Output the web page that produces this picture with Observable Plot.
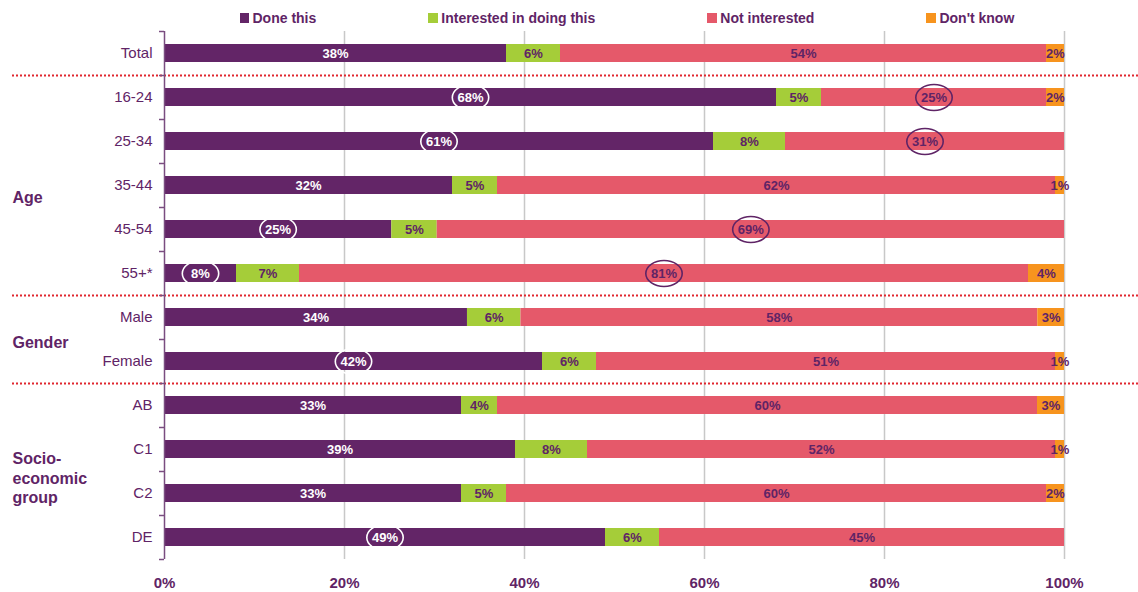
<!DOCTYPE html>
<html>
<head>
<meta charset="utf-8">
<script src="https://cdn.jsdelivr.net/npm/d3@7"></script>
<script src="https://cdn.jsdelivr.net/npm/@observablehq/plot@0.6"></script>
<style>
  html, body { margin: 0; padding: 0; background: #fff; }
  #chart { width: 1138px; font-family: "Liberation Sans", Arial, sans-serif; }
  .legend { height: 30px; box-sizing: border-box; padding-top: 6px; padding-left: 239.5px; display: flex; align-items: center; gap: 112px; }
  .legend .item { display: flex; align-items: center; font-size: 14px; font-weight: bold; color: #5F2466; line-height: 24px; white-space: nowrap; }
  .legend .sw { width: 9.5px; height: 9.5px; margin-right: 3.5px; display: inline-block; }
</style>
</head>
<body>
<div id="chart"></div>
<script>
// ---- data ----
const categories = ["Total", "16-24", "25-34", "35-44", "45-54", "55+*", "Male", "Female", "AB", "C1", "C2", "DE"];
const series = ["Done this", "Interested in doing this", "Not interested", "Don't know"];
const seriesColors = ["#632567", "#A5CD39", "#E5596A", "#F7941E"];
const doneThis      = [38, 68, 61, 32, 25,  8, 34, 42, 33, 39, 33, 49];
const interested    = [ 6,  5,  8,  5,  5,  7,  6,  6,  4,  8,  5,  6];
const notInterested = [54, 25, 31, 62, 69, 81, 58, 51, 60, 52, 60, 45];
const dontKnow      = [ 2,  2,  0,  1,  0,  4,  3,  1,  3,  1,  2,  0];
const circled = [
  ["16-24", "Done this"], ["16-24", "Not interested"],
  ["25-34", "Done this"], ["25-34", "Not interested"],
  ["45-54", "Done this"], ["45-54", "Not interested"],
  ["55+*", "Done this"], ["55+*", "Not interested"],
  ["Female", "Done this"], ["DE", "Done this"]
];
const separators = ["16-24", "Male", "AB"];
const groupLabels = ["Age", "Gender", "Socio-\neconomic\ngroup"];
const groupAnchors = ["35-44", "Male", "C1"];
const xTicks = [0, 0.2, 0.4, 0.6, 0.8, 1];

// ---- styling constants ----
const textPurple = "#5F2466";
const axisPurple = "#7A4D80";
const groupDy = [11, 24, 28];

// ---- build table ----
const seriesValues = [doneThis, interested, notInterested, dontKnow];
const table = [];
categories.forEach((c, i) => {
  series.forEach((s, j) => {
    table.push({category: c, series: s, value: seriesValues[j][i],
      circled: circled.some(([cc, ss]) => cc === c && ss === s)});
  });
});

// ellipse symbol (custom d3 symbol type)
const ellipse = {
  draw(ctx, size) {
    const r = Math.sqrt(size / Math.PI);
    const rx = r * 1.4, ry = r, k = 0.5523;
    ctx.moveTo(rx, 0);
    ctx.bezierCurveTo(rx, ry * k, rx * k, ry, 0, ry);
    ctx.bezierCurveTo(-rx * k, ry, -rx, ry * k, -rx, 0);
    ctx.bezierCurveTo(-rx, -ry * k, -rx * k, -ry, 0, -ry);
    ctx.bezierCurveTo(rx * k, -ry, rx, -ry * k, rx, 0);
    ctx.closePath();
  }
};

// legend
const legend = document.createElement("div");
legend.className = "legend";
series.forEach((s, i) => {
  const item = document.createElement("div");
  item.className = "item";
  const sw = document.createElement("span");
  sw.className = "sw";
  sw.style.background = seriesColors[i];
  item.appendChild(sw);
  item.appendChild(document.createTextNode(s));
  legend.appendChild(item);
});

const leftEdge = -152 / 900;   // page x=12
const rightEdge = 974 / 900;   // page x=1138
const stackOpts = {x: "value", y: "category", offset: "normalize"};

const plot = Plot.plot({
  width: 1138,
  height: 562,
  marginLeft: 164,
  marginRight: 74,
  marginTop: 1,
  marginBottom: 33,
  style: {fontFamily: "'Liberation Sans', Arial, sans-serif", background: "#fff"},
  x: {domain: [0, 1], axis: null},
  y: {domain: categories, paddingInner: 0.59, paddingOuter: 0.295, axis: null},
  color: {domain: series, range: seriesColors},
  marks: [
    Plot.ruleX(xTicks.slice(1), {stroke: "#C8C8C8", strokeWidth: 1.5}),
    Plot.barX(table, Plot.stackX({...stackOpts, fill: "series"})),
    Plot.text(table, Plot.stackX({
      ...stackOpts,
      text: d => d.value ? d.value + "%" : "",
      fill: d => d.series === "Done this" ? "#ffffff" : textPurple,
      fontSize: 13, fontWeight: "bold"
    })),
    Plot.dot(table, Plot.stackX({
      ...stackOpts,
      symbol: ellipse, r: 13, fill: "none", strokeWidth: 1.6,
      stroke: d => !d.circled ? "none" : (d.series === "Done this" ? "#ffffff" : textPurple)
    })),
    Plot.ruleY(separators, {y: d => d, dy: -22, x1: leftEdge, x2: rightEdge,
      stroke: "#E0262E", strokeWidth: 2, strokeDasharray: "2,2"}),
    Plot.ruleX([0], {stroke: axisPurple, strokeWidth: 1.5}),
    Plot.ruleY(categories, {y: d => d, dy: -22, x1: -5 / 900, x2: 0, stroke: axisPurple, strokeWidth: 1.5}),
    Plot.ruleY(categories.slice(-1), {y: d => d, dy: 22, x1: -5 / 900, x2: 0, stroke: axisPurple, strokeWidth: 1.5}),
    Plot.axisY({tickSize: 0, tickPadding: 12, fontSize: 15, fill: textPurple, label: null}),
    Plot.axisX({ticks: xTicks, tickFormat: d3.format(".0%"), tickSize: 0, tickPadding: 18,
      fontSize: 15, fontWeight: "bold", fill: textPurple, label: null}),
    ...groupLabels.map((g, i) => Plot.text([g], {
      x: () => leftEdge, y: () => groupAnchors[i], text: d => d, dy: groupDy[i],
      textAnchor: "start", lineAnchor: "middle", lineHeight: 1.22,
      fontSize: 16, fontWeight: "bold", fill: textPurple
    }))
  ]
});

const root = document.getElementById("chart");
root.appendChild(legend);
root.appendChild(plot);
</script>
</body>
</html>
